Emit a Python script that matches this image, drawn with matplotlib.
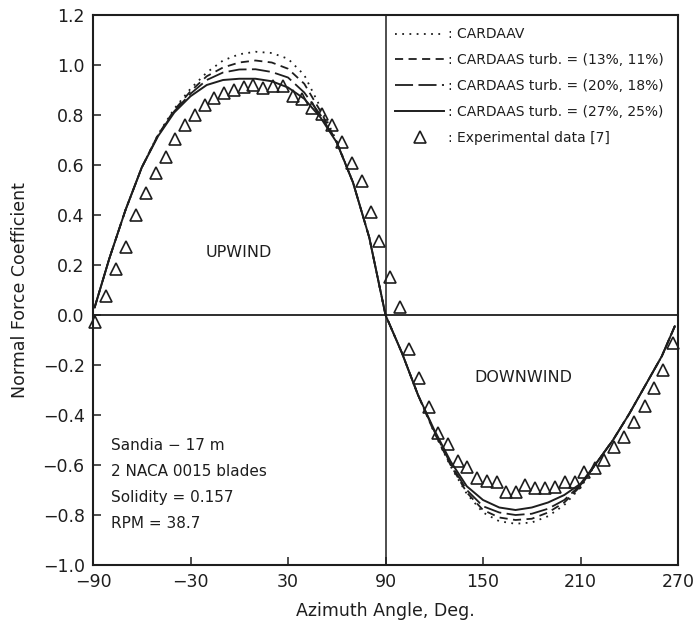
import matplotlib.pyplot as plt
from matplotlib.lines import Line2D

# azimuth grid shared by the four computed curves (deg)
azimuth = [-89, -80, -70, -60, -50, -40, -30, -20, -10, 0, 10, 20, 30, 40, 50, 60, 70, 80, 90,
           100, 110, 120, 130, 140, 150, 160, 170, 180, 190, 200, 210, 220, 230, 240, 250, 260, 268]

cardaav = [0.03, 0.225, 0.42, 0.59, 0.722, 0.825, 0.905, 0.97, 1.018, 1.043, 1.053, 1.048, 1.025, 0.96,
           0.83, 0.695, 0.53, 0.31, 0.0, -0.15, -0.32, -0.47, -0.605, -0.715, -0.79, -0.825, -0.835,
           -0.83, -0.805, -0.76, -0.69, -0.59, -0.50, -0.395, -0.28, -0.165, -0.045]
turb_13 = [0.03, 0.225, 0.42, 0.59, 0.72, 0.82, 0.895, 0.955, 0.99, 1.01, 1.018, 1.01, 0.985, 0.925,
           0.815, 0.69, 0.53, 0.31, 0.0, -0.15, -0.32, -0.47, -0.60, -0.71, -0.78, -0.81, -0.82,
           -0.815, -0.79, -0.75, -0.685, -0.59, -0.50, -0.395, -0.28, -0.165, -0.045]
turb_20 = [0.03, 0.225, 0.42, 0.59, 0.718, 0.815, 0.885, 0.94, 0.97, 0.982, 0.983, 0.972, 0.95, 0.89,
           0.80, 0.69, 0.53, 0.31, 0.0, -0.15, -0.32, -0.465, -0.595, -0.70, -0.765, -0.79, -0.80,
           -0.795, -0.775, -0.74, -0.68, -0.59, -0.50, -0.395, -0.28, -0.165, -0.045]
turb_27 = [0.03, 0.225, 0.42, 0.59, 0.715, 0.81, 0.875, 0.92, 0.94, 0.945, 0.945, 0.935, 0.91, 0.865,
           0.79, 0.69, 0.53, 0.31, 0.0, -0.15, -0.32, -0.46, -0.585, -0.685, -0.74, -0.77, -0.78,
           -0.77, -0.75, -0.72, -0.675, -0.59, -0.50, -0.395, -0.28, -0.165, -0.045]

# experimental data [7]
exp_angle = [-88.8, -82.0, -75.8, -69.7, -63.5, -57.4, -51.2, -45.1, -39.4, -33.2, -27.2, -21.1,
             -15.3, -9.2, -3.0, 2.9, 8.5, 14.6, 20.8, 26.9, 33.0, 38.4, 44.6, 50.7, 56.9, 63.0,
             69.2, 75.3, 80.9, 86.2, 92.8, 98.9, 104.6, 110.8, 116.8, 122.5, 128.6, 134.4, 140.3,
             146.1, 152.3, 158.4, 164.2, 170.1, 175.8, 182.0, 188.2, 194.3, 200.5, 206.6, 212.2,
             218.9, 224.5, 230.8, 237.0, 242.9, 249.7, 255.2, 261.0, 267.1]
exp_cn = [-0.027, 0.076, 0.183, 0.273, 0.40, 0.487, 0.567, 0.633, 0.705, 0.76, 0.80, 0.84,
          0.867, 0.889, 0.90, 0.912, 0.92, 0.907, 0.916, 0.916, 0.875, 0.865, 0.83, 0.805, 0.76,
          0.693, 0.607, 0.537, 0.412, 0.295, 0.153, 0.033, -0.137, -0.253, -0.367, -0.47, -0.517,
          -0.583, -0.607, -0.653, -0.663, -0.667, -0.707, -0.709, -0.68, -0.693, -0.693, -0.687,
          -0.667, -0.667, -0.627, -0.613, -0.58, -0.527, -0.487, -0.427, -0.364, -0.293, -0.22,
          -0.11]

xticks = [-90, -30, 30, 90, 150, 210, 270]
yticks = [-1.0, -0.8, -0.6, -0.4, -0.2, 0.0, 0.2, 0.4, 0.6, 0.8, 1.0, 1.2]

ink = '#1e1e1e'
plt.rcParams['font.family'] = ['DejaVu Sans']

fig = plt.figure(figsize=(6.94, 6.25), dpi=100)
ax = fig.add_axes([0.134, 0.096, 0.843, 0.88])

ax.plot(azimuth, cardaav, color=ink, lw=1.3, dashes=(1, 3))
ax.plot(azimuth, turb_13, color=ink, lw=1.3, dashes=(4.5, 3))
ax.plot(azimuth, turb_20, color=ink, lw=1.3, dashes=(10, 3))
ax.plot(azimuth, turb_27, color=ink, lw=1.4)
ax.plot(exp_angle, exp_cn, ls='none', marker='^', ms=9, mfc='none', mec=ink, mew=1.2, clip_on=False)

ax.axhline(0, color=ink, lw=1.3)
ax.axvline(90, color=ink, lw=1.1)

ax.set_xlim(-90, 270)
ax.set_ylim(-1.0, 1.2)
ax.set_xticks(xticks)
ax.set_yticks(yticks)
ax.set_xticklabels([str(t) if t >= 0 else '\u2212' + str(-t) for t in xticks])
ax.set_yticklabels([f"{t:.1f}".replace('-', '\u2212') for t in yticks])
ax.tick_params(direction='in', length=6, width=1.1, color=ink, labelsize=12.5, labelcolor=ink)
ax.tick_params(axis='x', pad=6)
ax.tick_params(axis='y', pad=6)
for s in ax.spines.values():
    s.set_linewidth(1.5)
    s.set_color(ink)

ax.set_xlabel("Azimuth Angle, Deg.", fontsize=12.5, color=ink, labelpad=8)
ax.set_ylabel("Normal Force Coefficient", fontsize=12.5, color=ink, labelpad=10)

ax.text(0, 0.25, "UPWIND", fontsize=11.5, color=ink, ha='center', va='center')
ax.text(175, -0.25, "DOWNWIND", fontsize=11.5, color=ink, ha='center', va='center')

info = ["Sandia \u2212 17 m", "2 NACA 0015 blades", "Solidity = 0.157", "RPM = 38.7"]
for i, line in enumerate(info):
    ax.text(-79, -0.52 - 0.105 * i, line, fontsize=11, color=ink, va='center')

handles = [Line2D([], [], color=ink, lw=1.3, dashes=(1, 3)),
           Line2D([], [], color=ink, lw=1.3, dashes=(4.5, 3)),
           Line2D([], [], color=ink, lw=1.3, dashes=(10, 3)),
           Line2D([], [], color=ink, lw=1.4),
           Line2D([], [], ls='none', marker='^', ms=9, mfc='none', mec=ink, mew=1.2)]
labels = [": CARDAAV",
          ": CARDAAS turb. = (13%, 11%)",
          ": CARDAAS turb. = (20%, 18%)",
          ": CARDAAS turb. = (27%, 25%)",
          ": Experimental data [7]"]
ax.legend(handles, labels, loc='upper left', bbox_to_anchor=(0.5, 0.995), frameon=False,
          fontsize=10, handlelength=3.5, handletextpad=0.3, labelspacing=0.85, borderaxespad=0.3,
          labelcolor=ink)

fig.savefig("out.png", dpi=100)
